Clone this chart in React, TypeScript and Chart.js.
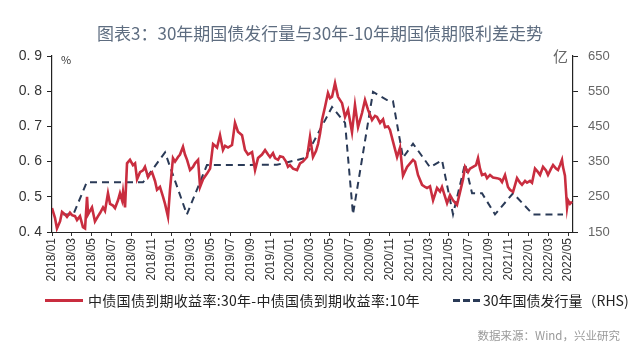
import React, { useEffect, useRef } from "react";
import { Chart, registerables } from "chart.js";

Chart.register(...registerables);

// Month index (0 = 2018/01) and 30Y-10Y spread (%)
const spreadMonth = [
  0, 0.3, 0.5, 0.81, 1.01, 1.31, 1.51, 1.81, 2.02, 2.32, 2.52, 2.82, 3.12, 3.33, 3.53, 3.63, 3.83, 4.03, 4.33, 4.64,
  4.84, 5.14, 5.34, 5.64, 5.85, 6.15, 6.35, 6.65, 6.85, 7.06, 7.16, 7.36, 7.56, 7.86, 8.16, 8.37, 8.57, 8.87, 9.17, 9.37,
  9.68, 9.88, 10.08, 10.38, 10.58, 10.88, 11.19, 11.39, 11.69, 11.89, 12.19, 12.4, 12.7, 12.9, 13.2, 13.4, 13.61, 13.91, 14.21, 14.41,
  14.72, 14.92, 15.22, 15.62, 15.93, 16.23, 16.63, 16.93, 17.23, 17.44, 17.74, 18.14, 18.44, 18.74, 19.15, 19.45, 19.75, 20.16, 20.46, 20.76,
  21.16, 21.47, 21.77, 21.97, 22.27, 22.47, 22.78, 22.98, 23.28, 23.58, 23.78, 23.98, 24.29, 24.69, 24.99, 25.29, 25.7, 26.0, 26.3, 26.6,
  26.81, 27.01, 27.21, 27.51, 27.81, 28.02, 28.22, 28.52, 28.82, 29.23, 29.53, 29.83, 30.23, 30.53, 30.84, 31.24, 31.54, 31.85, 32.25, 32.55,
  32.75, 33.06, 33.36, 33.56, 33.86, 34.06, 34.37, 34.77, 35.07, 35.37, 35.78, 36.08, 36.38, 36.58, 36.88, 37.29, 37.59, 37.79, 38.09, 38.4,
  38.8, 39.1, 39.3, 39.61, 39.81, 40.11, 40.41, 40.81, 41.12, 41.42, 41.62, 41.92, 42.12, 42.43, 42.73, 42.93, 43.13, 43.33, 43.64, 43.84,
  44.14, 44.44, 44.84, 45.15, 45.35, 45.65, 45.95, 46.15, 46.46, 46.86, 47.16, 47.36, 47.67, 47.87, 48.17, 48.37, 48.67, 48.98, 49.18, 49.48,
  49.78, 49.98, 50.29, 50.49, 50.79, 50.99, 51.19, 51.39, 51.49, 51.69, 51.9, 52.0, 52.2, 52.4,
];
const spreadValue = [
  0.468, 0.44, 0.41, 0.43, 0.457, 0.45, 0.443, 0.455, 0.448, 0.445, 0.434, 0.445, 0.414, 0.41, 0.5, 0.45, 0.46, 0.47, 0.43, 0.445,
  0.454, 0.47, 0.46, 0.51, 0.48, 0.475, 0.468, 0.49, 0.51, 0.49, 0.514, 0.47, 0.595, 0.605, 0.59, 0.595, 0.55, 0.57, 0.575, 0.585,
  0.556, 0.565, 0.57, 0.545, 0.52, 0.528, 0.5, 0.48, 0.443, 0.52, 0.61, 0.6, 0.613, 0.62, 0.642, 0.62, 0.605, 0.576, 0.585, 0.595,
  0.605, 0.528, 0.55, 0.566, 0.58, 0.65, 0.64, 0.675, 0.633, 0.645, 0.64, 0.647, 0.71, 0.685, 0.675, 0.633, 0.62, 0.627, 0.576, 0.61,
  0.62, 0.633, 0.62, 0.613, 0.624, 0.61, 0.605, 0.615, 0.613, 0.6, 0.585, 0.59, 0.58, 0.576, 0.595, 0.6, 0.613, 0.67, 0.613, 0.63,
  0.65, 0.68, 0.718, 0.755, 0.795, 0.78, 0.784, 0.823, 0.784, 0.766, 0.727, 0.747, 0.684, 0.761, 0.698, 0.738, 0.775, 0.747, 0.718, 0.73,
  0.727, 0.71, 0.72, 0.698, 0.7, 0.69, 0.656, 0.613, 0.64, 0.56, 0.585, 0.595, 0.605, 0.6, 0.562, 0.534, 0.528, 0.525, 0.53, 0.49,
  0.525, 0.515, 0.528, 0.5, 0.482, 0.505, 0.49, 0.477, 0.514, 0.55, 0.585, 0.57, 0.58, 0.585, 0.59, 0.61, 0.58, 0.562, 0.565, 0.553,
  0.562, 0.555, 0.553, 0.55, 0.542, 0.562, 0.528, 0.52, 0.514, 0.553, 0.54, 0.534, 0.545, 0.54, 0.545, 0.54, 0.58, 0.57, 0.562, 0.585,
  0.575, 0.562, 0.58, 0.59, 0.58, 0.576, 0.59, 0.605, 0.585, 0.56, 0.47, 0.49, 0.48, 0.486,
];

// 30Y government bond issuance (100 million yuan, RHS)
const issueMonth = [
  1.14, 2.15, 3.5, 9.17, 11.39, 13.59, 15.61, 22.67, 25.49, 28.22, 29.53, 30.33, 32.35, 33.76,
  34.36, 35.37, 36.38, 38.09, 39.3, 40.41, 41.62, 42.33, 43.33, 44.64, 46.46, 48.47, 51.49,
];
const issueValue = [
  200, 200, 291, 291, 376, 200, 340, 341, 360, 505, 460, 200, 548, 525,
  522, 361, 401, 334, 354, 200, 344, 260, 260, 200, 260, 200, 200,
];

const xTickLabels = [
  "2018/01", "2018/03", "2018/05", "2018/07", "2018/09", "2018/11",
  "2019/01", "2019/03", "2019/05", "2019/07", "2019/09", "2019/11",
  "2020/01", "2020/03", "2020/05", "2020/07", "2020/09", "2020/11",
  "2021/01", "2021/03", "2021/05", "2021/07", "2021/09", "2021/11",
  "2022/01", "2022/03", "2022/05",
];

const RED = "#c92d3f";
const NAVY = "#2a3a57";
const TITLE = "图表3：30年期国债发行量与30年-10年期国债期限利差走势";
const LEGEND1 = "中债国债到期收益率:30年-中债国债到期收益率:10年";
const LEGEND2 = "30年国债发行量（RHS)";
const SOURCE = "数据来源：Wind，兴业研究";

export default function App() {
  const canvasRef = useRef<HTMLCanvasElement | null>(null);

  useEffect(() => {
    const canvas = canvasRef.current;
    if (!canvas) return;
    const chart = new Chart(canvas, {
      type: "line",
      data: {
        datasets: [
          {
            label: LEGEND1,
            data: spreadMonth.map((m, i) => ({ x: m, y: spreadValue[i] })),
            borderColor: RED,
            borderWidth: 2.6,
            pointRadius: 0,
            yAxisID: "y",
            tension: 0,
          },
          {
            label: LEGEND2,
            data: issueMonth.map((m, i) => ({ x: m, y: issueValue[i] })),
            borderColor: NAVY,
            borderWidth: 2,
            borderDash: [7, 5],
            pointRadius: 0,
            yAxisID: "y1",
            tension: 0,
          },
        ],
      },
      options: {
        responsive: false,
        animation: false,
        layout: { padding: { top: 56, bottom: 64, left: 0, right: 0 } },
        plugins: {
          legend: { display: false },
          tooltip: { enabled: false },
          title: { display: false },
        },
        scales: {
          x: {
            type: "linear",
            min: 0,
            max: 52.5,
            afterBuildTicks: (s: any) => {
              s.ticks = xTickLabels.map((_, i) => ({ value: i * 2 }));
            },
            afterFit: (s: any) => {
              s.height = 50;
            },
            ticks: {
              autoSkip: false,
              minRotation: 90,
              maxRotation: 90,
              padding: 2,
              color: "#333",
              font: { family: "Liberation Sans, Arial, sans-serif", size: 12 },
              callback: (v: any) => xTickLabels[Math.round(Number(v) / 2)] ?? "",
            },
            grid: { drawOnChartArea: false, drawTicks: true, tickLength: 4, color: "#333" },
            border: { display: true, color: "#222", width: 1 },
          },
          y: {
            position: "left",
            min: 0.4,
            max: 0.9,
            afterFit: (s: any) => {
              s.width = 52;
            },
            ticks: {
              stepSize: 0.1,
              padding: 5,
              color: "#333",
              font: { family: "Liberation Sans, Arial, sans-serif", size: 14 },
              callback: (v: any) => Number(v).toFixed(1).replace(".", ". "),
            },
            grid: { drawOnChartArea: false, drawTicks: true, tickLength: 5, color: "#222" },
            border: { display: true, color: "#222", width: 1.2 },
          },
          y1: {
            position: "right",
            min: 150,
            max: 650,
            afterFit: (s: any) => {
              s.width = 67;
            },
            ticks: {
              stepSize: 100,
              padding: 10,
              color: "#666",
              font: { family: "Liberation Sans, Arial, sans-serif", size: 13 },
            },
            grid: { drawOnChartArea: false, drawTicks: true, tickLength: 5, color: "#222" },
            border: { display: true, color: "#222", width: 1.2 },
          },
        },
      },
    });
    return () => chart.destroy();
  }, []);

  const cjk = '"Noto Sans CJK SC", "Noto Sans", sans-serif';

  return (
    <div style={{ position: "absolute", left: 0, top: 0, width: 640, height: 346, background: "#fff", overflow: "hidden" }}>
      <canvas ref={canvasRef} width={640} height={346} style={{ position: "absolute", left: 0, top: 0, width: 640, height: 346 }} />
      <div style={{ position: "absolute", left: 0, top: 21, width: 640, textAlign: "center", fontFamily: cjk, fontSize: 17, color: "#5e6d80", lineHeight: "24px", whiteSpace: "nowrap" }}>
        {TITLE}
      </div>
      <div style={{ position: "absolute", left: 61, top: 52, fontFamily: cjk, fontSize: 11, color: "#333", lineHeight: "14px" }}>%</div>
      <div style={{ position: "absolute", left: 553, top: 47, fontFamily: cjk, fontSize: 15, color: "#666", lineHeight: "18px" }}>亿</div>
      {/* legend */}
      <div style={{ position: "absolute", left: 45, top: 299, width: 38, height: 2.5, background: RED }} />
      <div style={{ position: "absolute", left: 88, top: 291, fontFamily: cjk, fontSize: 14, letterSpacing: 0.3, color: "#222", lineHeight: "18px", whiteSpace: "nowrap" }}>
        {LEGEND1}
      </div>
      {[0, 1, 2].map((i) => (
        <div key={i} style={{ position: "absolute", left: 453 + i * 10, top: 299, width: 7, height: 2.5, background: NAVY }} />
      ))}
      <div style={{ position: "absolute", left: 483, top: 291, fontFamily: cjk, fontSize: 14, color: "#222", lineHeight: "18px", whiteSpace: "nowrap" }}>
        {LEGEND2}
      </div>
      <div style={{ position: "absolute", right: 20, top: 327, fontFamily: cjk, fontSize: 11.5, color: "#999", lineHeight: "16px", whiteSpace: "nowrap" }}>
        {SOURCE}
      </div>
    </div>
  );
}
